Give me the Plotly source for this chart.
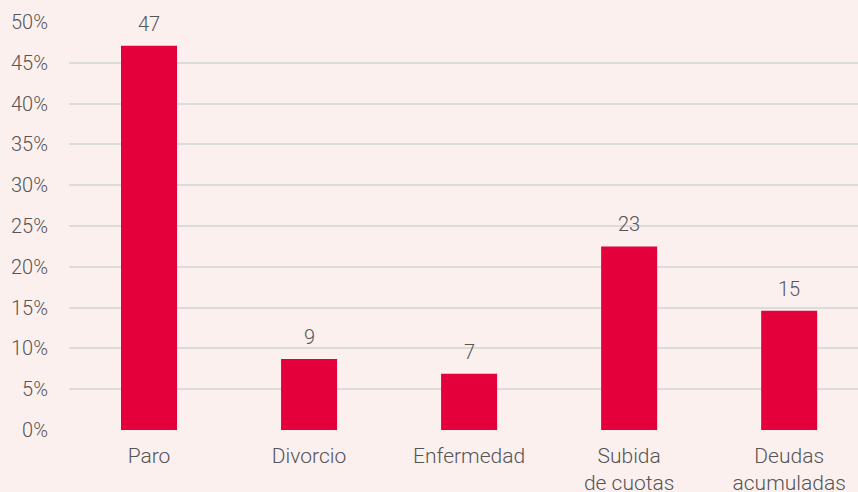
import plotly.graph_objects as go

# --------------------------------------------------------------
# Data
# --------------------------------------------------------------

categories = ["Paro", "Divorcio", "Enfermedad", "Subida<br>de cuotas", "Deudas<br>acumuladas"]
values = [47.1, 8.7, 6.9, 22.5, 14.6]
labels = ["47", "9", "7", "23", "15"]
tick_vals = [0, 5, 10, 15, 20, 25, 30, 35, 40, 45, 50]
tick_text = [f"{v}%" for v in tick_vals]

bg = "#fcf0ef"
red = "#e4003a"
grey_text = "#555555"
font_family = "Roboto Light, Roboto"

# --------------------------------------------------------------
# Figure
# --------------------------------------------------------------

fig = go.Figure()
fig.add_trace(go.Bar(
    x=list(range(len(categories))),
    y=values,
    marker=dict(color=red, line=dict(width=0)),
    width=0.35,
))

# value labels floating above the bars
for i, (v, t) in enumerate(zip(values, labels)):
    fig.add_annotation(x=i, y=v, text=t, showarrow=False, yanchor="bottom", yshift=8,
                       font=dict(size=20, color=grey_text, family=font_family, weight=300))

fig.update_layout(
    width=858, height=492,
    margin=dict(l=69, r=0, t=22, b=62),
    paper_bgcolor=bg, plot_bgcolor=bg,
    font=dict(family=font_family, size=20, color=grey_text, weight=300),
    showlegend=False,
    xaxis=dict(
        tickmode="array", tickvals=list(range(len(categories))), ticktext=categories,
        range=[-0.5, 4.43], showgrid=False, zeroline=False, showline=False,
        ticklabelstandoff=11, automargin=False,
        tickfont=dict(size=21, color=grey_text, family=font_family, weight=300),
    ),
    yaxis=dict(
        range=[0, 50], tickvals=tick_vals, ticktext=tick_text,
        showgrid=True, gridcolor="#dcdcdc", gridwidth=2,
        zeroline=False, ticklabelstandoff=20, automargin=False,
        tickfont=dict(size=20, color=grey_text, family=font_family, weight=300),
    ),
)

fig.write_html("out.html", config={"displayModeBar": False},
               post_script="document.body.style.margin='0';")
